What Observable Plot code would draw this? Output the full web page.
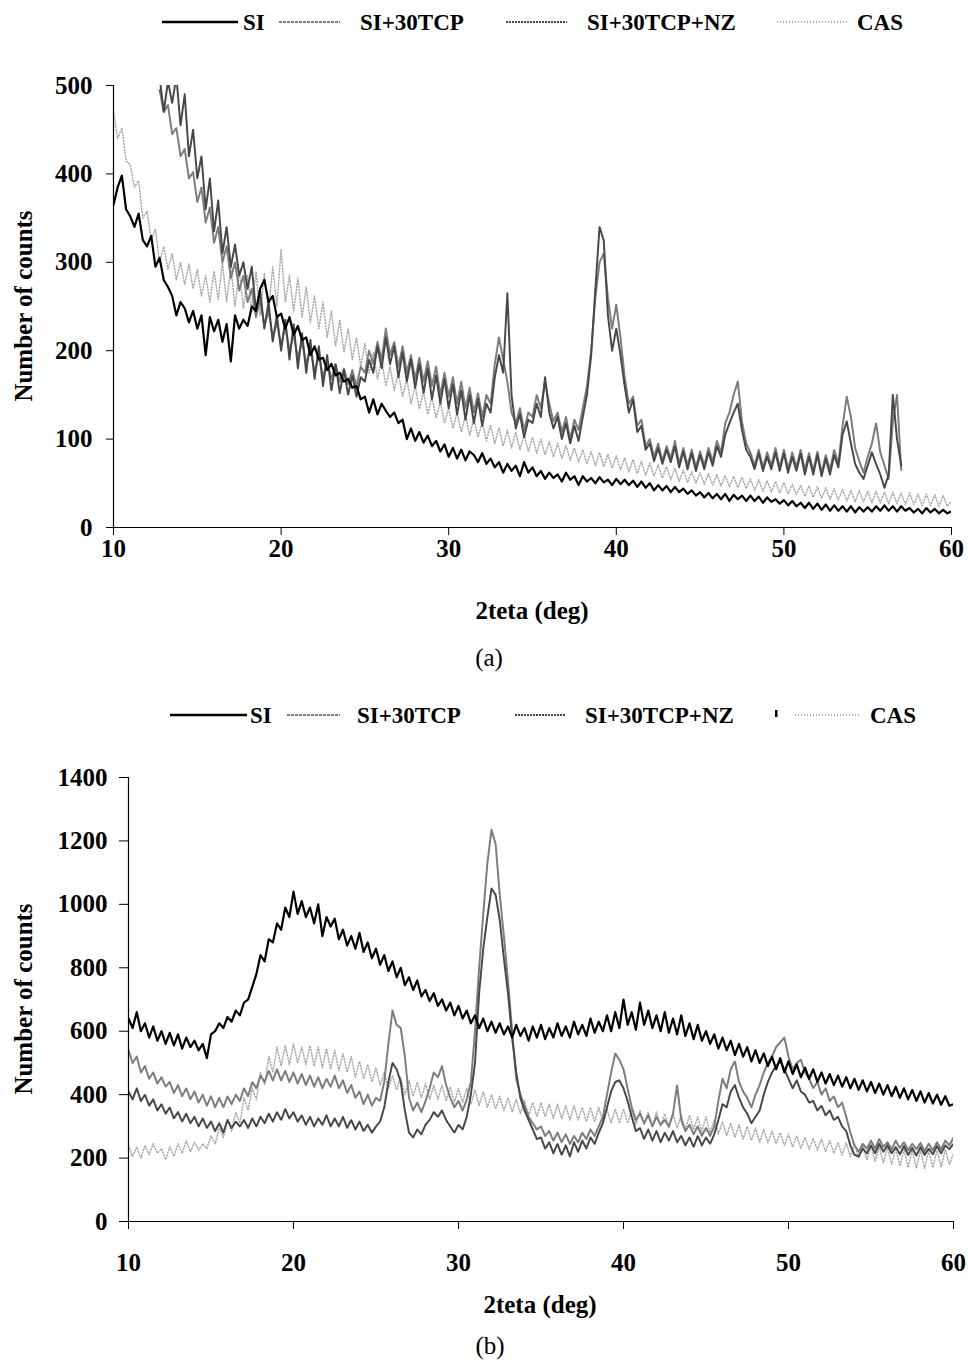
<!DOCTYPE html>
<html><head><meta charset="utf-8">
<script src="https://cdn.jsdelivr.net/npm/d3@7"></script>
<script src="https://cdn.jsdelivr.net/npm/@observablehq/plot@0.6"></script>
<style>
body{margin:0;background:#fff;}
#page{position:relative;width:968px;height:1362px;font-family:'Liberation Serif','Times New Roman',serif;color:#000;overflow:hidden;}
.t{position:absolute;font-size:25px;white-space:nowrap;transform:translate(-50%,-50%);}
.b{font-weight:bold;}
.yl{position:absolute;font-size:25px;font-weight:bold;white-space:nowrap;transform:translate(-50%,-50%) rotate(-90deg);}
</style></head><body><div id="page"></div>
<script>
// ---- data: 2θ sampling grid (deg) ----
const twoTheta = [
10,10.25,10.5,10.75,11,11.25,11.5,11.75,12,12.25,12.5,12.75,13,13.25,13.5,13.75,14,14.25,14.5,14.75,
15,15.25,15.5,15.75,16,16.25,16.5,16.75,17,17.25,17.5,17.75,18,18.25,18.5,18.75,19,19.25,19.5,19.75,
20,20.25,20.5,20.75,21,21.25,21.5,21.75,22,22.25,22.5,22.75,23,23.25,23.5,23.75,24,24.25,24.5,24.75,
25,25.25,25.5,25.75,26,26.25,26.5,26.75,27,27.25,27.5,27.75,28,28.25,28.5,28.75,29,29.25,29.5,29.75,
30,30.25,30.5,30.75,31,31.25,31.5,31.75,32,32.25,32.5,32.75,33,33.25,33.5,33.75,34,34.25,34.5,34.75,
35,35.25,35.5,35.75,36,36.25,36.5,36.75,37,37.25,37.5,37.75,38,38.25,38.5,38.75,39,39.25,39.5,39.75,
40,40.25,40.5,40.75,41,41.25,41.5,41.75,42,42.25,42.5,42.75,43,43.25,43.5,43.75,44,44.25,44.5,44.75,
45,45.25,45.5,45.75,46,46.25,46.5,46.75,47,47.25,47.5,47.75,48,48.25,48.5,48.75,49,49.25,49.5,49.75,
50,50.25,50.5,50.75,51,51.25,51.5,51.75,52,52.25,52.5,52.75,53,53.25,53.5,53.75,54,54.25,54.5,54.75,
55,55.25,55.5,55.75,56,56.25,56.5,56.75,57,57.25,57.5,57.75,58,58.25,58.5,58.75,59,59.25,59.5,59.75,
60];

const seriesNames = ["SI", "SI+30TCP", "SI+30TCP+NZ", "CAS"];
const xTicks = [10, 20, 30, 40, 50, 60];
const yTicksA = [0, 100, 200, 300, 400, 500];
const yTicksB = [0, 200, 400, 600, 800, 1000, 1200, 1400];

// ---- panel (a) ----
const siA = [
365,385,398,360,352,340,355,325,318,330,295,305,280,272,262,240,255,248,232,245,
225,240,195,238,222,235,210,230,188,240,225,235,228,250,245,270,280,255,262,238,
242,225,238,218,228,212,215,195,205,190,192,178,185,172,175,165,168,158,160,145,
148,130,145,128,140,132,125,130,118,122,100,112,98,108,96,104,92,98,86,94,
80,90,78,88,76,86,82,74,84,72,78,68,74,62,72,64,70,58,74,62,
68,58,64,55,62,56,60,52,62,54,58,48,58,52,56,50,57,51,54,48,
55,49,54,48,53,46,52,45,50,42,48,42,47,40,46,40,44,38,42,36,
40,34,39,33,38,32,38,30,37,32,36,30,36,30,35,28,34,29,32,27,
31,25,30,24,28,22,28,21,27,20,26,19,25,19,24,18,24,17,23,18,
23,18,24,19,25,19,24,18,24,19,22,17,21,16,22,17,21,16,20,16,
18];
const tcpA = [
null,null,null,null,null,null,null,null,null,null,null,495,470,478,445,452,420,428,395,402,
368,385,345,362,322,340,300,318,282,300,268,285,255,270,238,258,228,245,215,232,
205,228,200,218,192,210,185,202,175,195,170,188,168,185,165,180,162,178,160,182,
175,200,185,210,190,225,195,210,182,205,175,195,168,192,165,188,160,182,150,175,
148,170,140,165,135,158,130,152,125,150,140,185,215,190,165,130,118,135,110,130,
125,150,135,165,140,120,130,108,125,100,122,110,135,160,200,260,300,310,260,225,
252,215,170,140,148,115,122,92,100,80,95,75,92,78,98,72,90,70,88,68,
86,70,90,75,98,85,118,130,150,165,120,95,85,70,88,68,85,70,90,68,
88,66,85,68,88,65,84,64,86,62,82,65,88,72,115,148,125,90,75,62,
80,95,118,85,70,55,120,150,65,null,null,null,null,null,null,null,null,null,null,null,
null];
const nzA = [
null,null,null,null,null,null,null,null,null,null,null,510,470,505,480,510,455,490,420,450,
395,420,360,395,335,370,310,340,295,320,285,300,270,295,245,268,225,255,210,240,
200,235,190,230,180,220,175,212,168,205,160,195,155,185,152,178,150,172,148,170,
165,190,175,205,180,215,185,205,170,198,165,190,158,185,152,180,145,172,140,168,
135,162,128,155,122,150,118,145,115,140,130,170,195,175,265,150,112,128,102,122,
118,140,125,170,130,112,125,100,118,95,115,98,125,150,195,270,340,325,240,200,
225,195,160,130,145,108,115,88,95,75,90,72,88,74,92,68,86,66,84,64,
82,66,85,70,92,80,105,118,130,140,110,88,80,66,84,64,80,66,85,64,
84,62,80,64,84,60,80,60,82,58,78,60,82,68,105,120,95,72,62,55,
70,85,72,60,45,60,150,100,70,null,null,null,null,null,null,null,null,null,null,null,
null];
const casA = [
470,440,452,415,410,385,392,350,358,325,338,300,318,292,310,280,300,275,298,270,
292,262,285,255,290,258,300,255,295,250,290,248,285,245,290,240,288,245,295,250,
315,255,285,245,282,238,272,232,262,225,255,215,245,205,235,198,225,190,215,182,
208,175,198,168,190,160,182,155,175,148,168,140,160,134,154,128,148,124,142,118,
135,112,130,108,127,104,123,102,119,98,116,95,113,92,110,90,108,88,105,86,
102,84,100,82,97,80,95,78,93,76,90,74,88,72,86,70,85,69,83,67,
81,65,79,63,77,61,75,59,73,58,71,56,69,54,67,52,65,51,63,50,
62,49,61,48,60,47,59,46,58,45,57,44,55,42,54,41,53,40,52,39,
51,38,49,37,48,35,47,34,46,33,45,32,44,31,43,30,42,29,42,29,
41,28,41,28,40,27,40,27,39,26,39,26,38,25,38,25,37,24,36,24,
30];

// ---- panel (b) ----
const siB = [
640,610,660,600,625,580,615,570,600,560,595,555,590,545,580,550,570,540,560,515,
590,600,625,610,645,630,665,650,690,700,740,780,840,820,890,880,940,920,990,960,
1040,970,1010,960,990,940,1000,900,960,930,955,890,920,870,900,860,910,850,880,830,
860,810,840,790,820,770,800,745,770,730,760,710,730,695,720,680,700,665,690,650,
680,640,665,625,650,610,640,600,630,595,625,590,615,580,620,585,610,570,615,580,
620,575,610,580,625,585,615,580,630,590,620,585,640,595,630,600,650,600,660,610,
700,620,660,605,690,620,665,610,650,600,660,595,640,590,650,585,625,575,620,570,
600,560,590,545,580,540,570,525,560,520,550,505,540,500,530,490,520,480,515,470,
505,465,495,455,485,450,480,440,470,435,465,430,460,425,455,420,450,415,445,410,
440,405,435,400,430,395,425,390,420,385,415,380,410,375,405,372,400,368,395,365,
370];
const tcpB = [
540,500,520,470,490,450,470,435,455,425,440,405,430,395,420,385,410,375,400,365,
395,360,390,360,395,370,400,380,420,395,440,420,460,440,475,445,480,445,475,440,
470,435,465,430,460,425,455,420,450,425,460,420,445,405,430,390,410,370,400,365,
390,380,440,560,665,620,610,520,390,350,375,345,380,420,470,455,490,430,390,360,
380,350,385,440,600,800,970,1130,1235,1190,1030,900,760,600,450,400,365,330,310,290,
300,270,285,255,280,250,275,245,270,250,280,260,290,270,300,330,400,470,530,510,
480,420,360,320,340,310,335,300,330,305,320,300,340,430,320,285,305,275,300,270,
295,270,300,380,450,420,480,505,440,410,390,360,400,430,470,500,520,550,565,580,
520,480,500,510,470,450,420,440,400,420,380,395,360,375,330,280,240,220,245,230,
255,230,260,235,250,228,255,232,250,225,245,228,248,222,245,225,250,228,255,240,
265];
const nzB = [
410,385,420,380,400,365,385,350,370,340,360,325,345,315,340,310,330,300,325,295,
315,285,310,280,320,295,315,300,320,295,325,300,330,310,340,315,345,320,355,325,
345,315,335,305,330,300,325,305,335,300,325,300,330,295,320,290,315,285,305,280,
300,315,360,440,500,480,440,350,280,265,290,275,305,320,345,330,350,320,300,280,
305,290,330,400,500,720,860,960,1050,1030,950,830,720,580,470,390,350,320,290,260,
265,230,250,215,245,210,240,205,250,220,255,230,265,245,280,310,360,410,440,445,
420,380,330,285,295,260,290,255,285,250,280,255,285,250,270,240,265,235,270,240,
265,245,275,320,370,360,410,430,390,360,340,310,330,350,400,440,470,490,505,480,
450,420,445,410,400,375,380,350,365,335,350,320,330,300,285,240,210,205,230,215,
240,215,245,220,240,215,235,212,238,210,232,208,235,210,230,212,238,215,240,228,
245];
const casB = [
240,205,235,200,240,210,245,215,230,195,235,205,245,215,255,220,250,225,245,230,
270,245,295,265,320,285,345,310,390,350,420,385,470,430,520,470,550,490,555,495,
560,500,550,495,555,490,550,485,545,480,540,475,530,470,520,455,505,450,495,440,
485,430,470,420,460,415,455,400,445,395,440,390,435,385,430,385,430,380,425,375,
420,375,420,370,415,365,410,360,400,355,395,350,390,345,385,340,380,335,375,330,
375,330,370,325,370,325,365,320,365,320,360,315,360,315,360,315,355,310,355,310,
355,310,350,305,350,305,345,300,345,300,340,295,340,295,335,290,335,290,330,285,
330,280,320,275,315,270,310,265,305,260,300,255,295,250,290,248,285,245,280,240,
275,235,270,230,265,228,262,225,260,220,255,215,250,210,248,205,245,200,240,195,
238,190,235,185,232,180,230,175,228,170,225,168,225,168,222,170,225,172,228,180,
215];

// ---- styles (not data) ----
const styles = [
  {stroke: "#000", width: 2.2, dash: null},
  {stroke: "#7c7c7c", width: 2, dash: "3,1"},
  {stroke: "#474747", width: 2, dash: "2,1"},
  {stroke: "#a9a9a9", width: 1.5, dash: "1,2"}
];

const page = document.getElementById("page");
const serif = "'Liberation Serif','Times New Roman',serif";

function panel(arrays, cfg) {
  const rows = [];
  arrays.forEach((arr, k) => arr.forEach((v, i) => {
    if (v != null && i < twoTheta.length) rows.push({angle: twoTheta[i], counts: v, series: seriesNames[k]});
  }));
  const order = [3, 1, 2, 0];
  const lines = order.map(k => Plot.line(rows.filter(r => r.series === seriesNames[k]), {
    x: "angle", y: "counts", stroke: styles[k].stroke, strokeWidth: styles[k].width,
    strokeDasharray: styles[k].dash, strokeLinejoin: "round", clip: true
  }));
  const chart = Plot.plot({
    width: 968, height: cfg.height,
    marginLeft: cfg.ml, marginRight: cfg.mr, marginTop: cfg.mt, marginBottom: cfg.mb,
    x: {domain: [10, 60]},
    y: {domain: [0, cfg.ymax]},
    style: {fontFamily: serif, fontSize: "25px", fontWeight: "bold", background: "transparent", overflow: "visible", color: "#000"},
    marks: [
      ...lines,
      Plot.ruleX([10], {stroke: "#000", strokeWidth: 1.2}),
      Plot.ruleY([0], {stroke: "#000", strokeWidth: 1.2}),
      Plot.axisY(cfg.yTicks, {tickSize: cfg.yts, tickPadding: cfg.ytp, label: null, tickFormat: d => String(d), fontSize: 25, fontWeight: "bold"}),
      Plot.axisX(xTicks, {tickSize: 8, tickPadding: cfg.xtp, label: null, tickFormat: d => String(d), fontSize: 25, fontWeight: "bold"})
    ]
  });
  chart.style.position = "absolute";
  chart.style.left = "0px";
  chart.style.top = cfg.top + "px";
  page.appendChild(chart);
}

function legend(top, pos) {
  const svg = d3.create("svg").attr("width", 968).attr("height", 40)
    .style("position", "absolute").style("left", "0px").style("top", top + "px");
  seriesNames.forEach((name, k) => {
    const p = pos[k];
    svg.append("line").attr("x1", p[0]).attr("x2", p[1]).attr("y1", 20).attr("y2", 20)
      .attr("stroke", styles[k].stroke).attr("stroke-width", k === 0 ? 2.5 : 2)
      .attr("stroke-dasharray", styles[k].dash);
    svg.append("text").attr("x", p[2]).attr("y", 28).text(name)
      .attr("font-family", serif).attr("font-size", 23).attr("font-weight", "bold");
  });
  if (pos[4]) svg.append("rect").attr("x", pos[4]).attr("y", 15).attr("width", 2.5).attr("height", 7).attr("fill", "#000");
  page.appendChild(svg.node());
}

function label(text, x, y, cls) {
  const d = document.createElement("div");
  d.className = cls; d.textContent = text;
  d.style.left = x + "px"; d.style.top = y + "px";
  page.appendChild(d);
}

// panel (a)
legend(2, [[162, 238, 243], [279, 340, 360], [506, 567, 587], [777, 848, 857]]);
panel([siA, tcpA, nzA, casA], {top: 55, height: 520, ml: 113, mr: 17, mt: 30, mb: 48, ymax: 500, yTicks: yTicksA, yts: 7, ytp: 14, xtp: 4});
label("Number of counts", 24, 306, "yl");
label("2teta (deg)", 532, 611, "t b");
label("(a)", 489, 658, "t");

// panel (b)
legend(695, [[170, 247, 250], [287, 340, 357], [515, 565, 585], [795, 860, 870], 775]);
panel([siB, tcpB, nzB, casB], {top: 745, height: 540, ml: 128, mr: 15, mt: 32, mb: 64, ymax: 1400, yTicks: yTicksB, yts: 9, ytp: 12, xtp: 24});
label("Number of counts", 24, 999, "yl");
label("2teta (deg)", 540, 1305, "t b");
label("(b)", 490, 1346, "t");
</script></body></html>
